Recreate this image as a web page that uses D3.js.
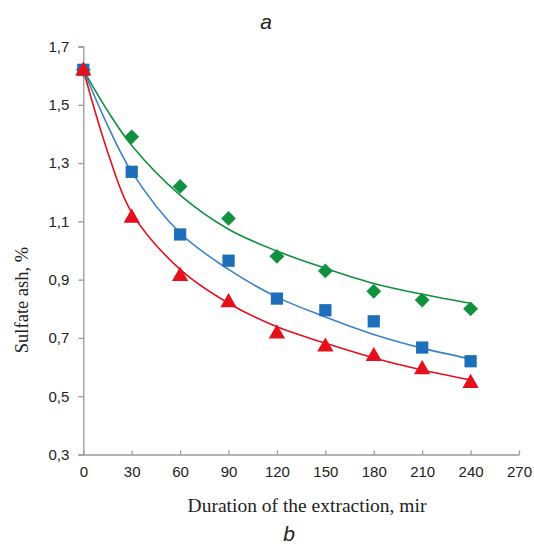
<!DOCTYPE html>
<html><head><meta charset="utf-8">
<script src="https://cdn.jsdelivr.net/npm/d3@7/dist/d3.min.js"></script>
<style>body{margin:0;background:#fff}svg{display:block}</style>
</head><body>
<svg id="c" width="534" height="544"></svg>
<script>
const durations = [0, 30, 60, 90, 120, 150, 180, 210, 240];
const greenValues = [1.62, 1.39, 1.22, 1.11, 0.98, 0.93, 0.86, 0.83, 0.80];
const blueValues  = [1.62, 1.27, 1.055, 0.965, 0.835, 0.795, 0.757, 0.667, 0.62];
const redValues   = [1.62, 1.115, 0.915, 0.825, 0.718, 0.673, 0.64, 0.595, 0.548];

const trendX     = [0, 15, 30, 60, 90, 120, 150, 180, 210, 240];
const greenTrend = [1.62, 1.48, 1.36, 1.19, 1.073, 0.998, 0.939, 0.887, 0.85, 0.819];
const blueTrend  = [1.62, 1.43, 1.27, 1.06, 0.935, 0.84, 0.772, 0.712, 0.665, 0.628];
const redTrend   = [1.62, 1.34, 1.13, 0.935, 0.819, 0.738, 0.682, 0.631, 0.59, 0.556];

const xTicks = [0, 30, 60, 90, 120, 150, 180, 210, 240, 270];
const yTicks = [0.3, 0.5, 0.7, 0.9, 1.1, 1.3, 1.5, 1.7];

const svg = d3.select("#c");
const x = d3.scaleLinear().domain([0, 270]).range([83.3, 519]);
const y = d3.scaleLinear().domain([0.3, 1.7]).range([454.5, 46.5]);
const axisColor = "#999";

// Y axis
const gy = svg.append("g").attr("transform", `translate(${x(0)},0)`)
  .call(d3.axisLeft(y).tickValues(yTicks).tickSize(5).tickPadding(9)
    .tickFormat(d => d3.format(".1f")(d).replace(".", ",")));
gy.select(".domain").attr("stroke", axisColor).attr("stroke-width", 1.3);
gy.selectAll(".tick line").attr("stroke", axisColor).attr("stroke-width", 1.3);
gy.selectAll(".tick text").attr("font-family", "Liberation Sans, Arial, sans-serif")
  .attr("font-size", 15).attr("fill", "#222");

// X axis (ticks inward)
const gx = svg.append("g").attr("transform", `translate(0,${y(0.3)})`)
  .call(d3.axisBottom(x).tickValues(xTicks).tickSize(0).tickPadding(12));
gx.select(".domain").attr("stroke", axisColor).attr("stroke-width", 1.3);
gx.selectAll(".tick line").attr("y2", -4).attr("stroke", axisColor).attr("stroke-width", 1.3);
gx.selectAll(".tick text").attr("font-family", "Liberation Sans, Arial, sans-serif")
  .attr("font-size", 15).attr("fill", "#222");

// Trend lines
const line = d3.line().x(d => x(d[0])).y(d => y(d[1])).curve(d3.curveCatmullRom.alpha(0.5));
const series = [
  {trend: greenTrend, vals: greenValues, color: "#119040", sym: d3.symbolDiamond2, size: 140},
  {trend: blueTrend,  vals: blueValues,  color: "#1e6fba", sym: d3.symbolSquare,  size: 150, lineColor: "#3c82c8"},
  {trend: redTrend,   vals: redValues,   color: "#e5101b", sym: d3.symbolTriangle, size: 115}
];
series.forEach(s => {
  svg.append("path").datum(trendX.map((t, i) => [t, s.trend[i]]))
    .attr("d", line).attr("fill", "none")
    .attr("stroke", s.lineColor || s.color).attr("stroke-width", 1.6);
});
series.forEach(s => {
  svg.append("g").selectAll("path").data(durations.map((t, i) => [t, s.vals[i]]))
    .join("path")
    .attr("d", d3.symbol().type(s.sym).size(s.size))
    .attr("transform", d => `translate(${x(d[0])},${y(d[1]) + (s.sym === d3.symbolTriangle ? 1 : 0)})`)
    .attr("fill", s.color);
});

// Labels
svg.append("text").attr("x", 266).attr("y", 29).attr("text-anchor", "middle")
  .attr("font-family", "Liberation Sans, Arial, sans-serif").attr("font-style", "italic")
  .attr("font-size", 21).attr("fill", "#222").text("a");
svg.append("text").attr("x", 289).attr("y", 541).attr("text-anchor", "middle")
  .attr("font-family", "Liberation Sans, Arial, sans-serif").attr("font-style", "italic")
  .attr("font-size", 21).attr("fill", "#222").text("b");
svg.append("text").attr("x", 307).attr("y", 512).attr("text-anchor", "middle")
  .attr("font-family", "Liberation Serif, Times New Roman, serif")
  .attr("font-size", 19.5).attr("fill", "#222").text("Duration of the extraction, mir");
svg.append("text").attr("transform", "translate(28,300) rotate(-90)").attr("text-anchor", "middle")
  .attr("font-family", "Liberation Serif, Times New Roman, serif")
  .attr("font-size", 18.5).attr("fill", "#222").text("Sulfate ash, %");
</script>
</body></html>
